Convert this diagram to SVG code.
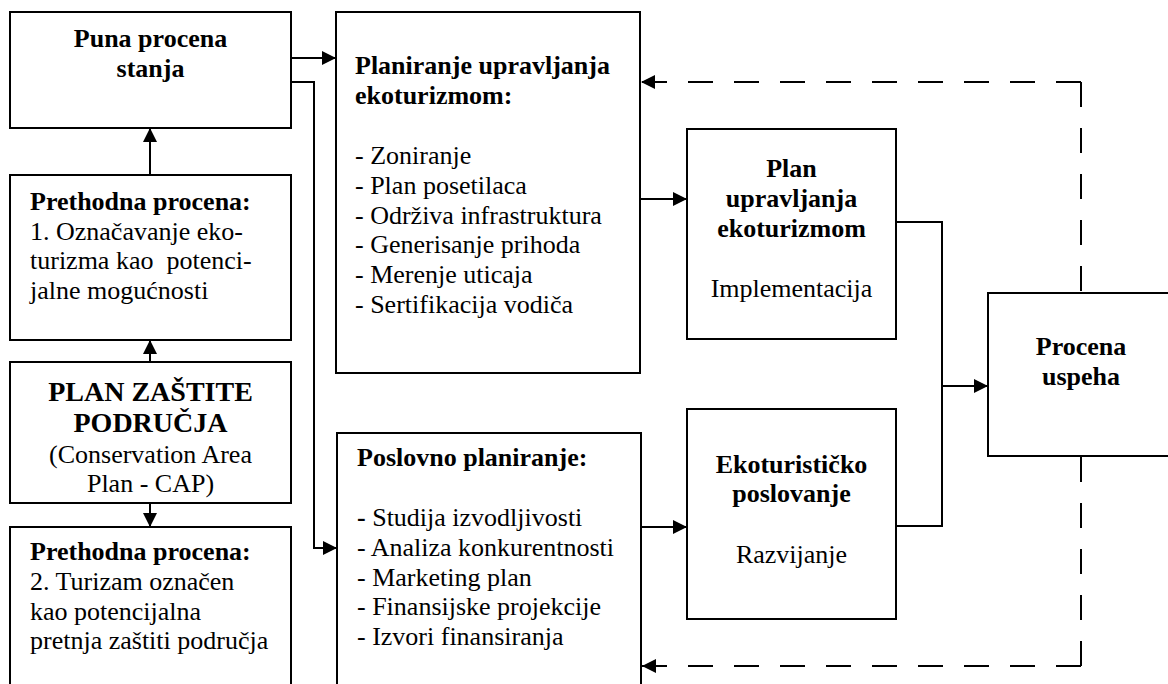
<svg xmlns="http://www.w3.org/2000/svg" width="1168" height="684" viewBox="0 0 1168 684">
  <style>
    .box { fill: #ffffff; stroke: #000000; stroke-width: 2; }
    .line { fill: none; stroke: #000000; stroke-width: 2; }
    .dash { fill: none; stroke: #000000; stroke-width: 2; stroke-dasharray: 25 21; }
    text { font-family: "Liberation Serif", "Times New Roman", serif; font-size: 26px; fill: #000000; }
    .b { font-weight: bold; }
    .c { text-anchor: middle; }
    .big { font-size: 28px; }
  </style>
  <defs>
    <marker id="arrow" markerUnits="userSpaceOnUse" markerWidth="14" markerHeight="14" refX="14" refY="7" orient="auto">
      <path d="M0,0 L14,7 L0,14 Z" fill="#000000" stroke="none"/>
    </marker>
  </defs>

  <rect width="1168" height="684" fill="#ffffff"/>

  <!-- connectors -->
  <g id="connectors">
    <path class="line" d="M291,58 H336" marker-end="url(#arrow)"/>
    <path class="line" d="M291,82 H314 V548 H337" marker-end="url(#arrow)"/>
    <path class="line" d="M150,175 V128" marker-end="url(#arrow)"/>
    <path class="line" d="M150,362 V340" marker-end="url(#arrow)"/>
    <path class="line" d="M150,503 V527" marker-end="url(#arrow)"/>
    <path class="line" d="M640,199 H687" marker-end="url(#arrow)"/>
    <path class="line" d="M641,527 H687" marker-end="url(#arrow)"/>
    <path class="line" d="M896,222 H942 V526 H896"/>
    <path class="line" d="M942,386 H988" marker-end="url(#arrow)"/>
    <!-- feedback from the evaluation box -->
    <path class="dash" d="M1081,82 V293"/>
    <path class="dash" d="M1081,82 H641" marker-end="url(#arrow)"/>
    <path class="dash" d="M1081,666 V456"/>
    <path class="dash" d="M1081,666 H642" marker-end="url(#arrow)"/>
  </g>

  <g id="puna-procena">
    <rect class="box" x="10" y="12" width="281" height="116"/>
    <text class="b c" x="150.5" y="47">Puna procena</text>
    <text class="b c" x="150.5" y="77">stanja</text>
  </g>

  <g id="prethodna-procena-1">
    <rect class="box" x="10" y="175" width="281" height="165"/>
    <text class="b" x="30" y="210">Prethodna procena:</text>
    <text x="30" y="240">1. Označavanje eko-</text>
    <text x="30" y="269" xml:space="preserve">turizma kao  potenci-</text>
    <text x="30" y="298.5">jalne mogućnosti</text>
  </g>

  <g id="plan-zastite">
    <rect class="box" x="10" y="362" width="281" height="141"/>
    <text class="b c big" x="150.5" y="401">PLAN ZAŠTITE</text>
    <text class="b c big" x="150.5" y="432">PODRUČJA</text>
    <text class="c" x="150.5" y="463">(Conservation Area</text>
    <text class="c" x="150.5" y="492">Plan - CAP)</text>
  </g>

  <g id="prethodna-procena-2">
    <rect class="box" x="10" y="527" width="281" height="170"/>
    <text class="b" x="30" y="560">Prethodna procena:</text>
    <text x="30" y="590">2. Turizam označen</text>
    <text x="30" y="620">kao potencijalna</text>
    <text x="30" y="649">pretnja zaštiti područja</text>
  </g>

  <g id="planiranje-upravljanja">
    <rect class="box" x="336" y="12" width="304" height="361"/>
    <text class="b" x="355" y="74">Planiranje upravljanja</text>
    <text class="b" x="355" y="104">ekoturizmom:</text>
    <text x="355" y="164">- Zoniranje</text>
    <text x="355" y="193.5">- Plan posetilaca</text>
    <text x="355" y="223.5">- Održiva infrastruktura</text>
    <text x="355" y="253">- Generisanje prihoda</text>
    <text x="355" y="283">- Merenje uticaja</text>
    <text x="355" y="313">- Sertifikacija vodiča</text>
  </g>

  <g id="poslovno-planiranje">
    <rect class="box" x="337" y="433" width="304" height="264"/>
    <text class="b" x="357" y="466">Poslovno planiranje:</text>
    <text x="357" y="526"><tspan class="b">-</tspan> Studija izvodljivosti</text>
    <text x="357" y="556">- Analiza konkurentnosti</text>
    <text x="357" y="585.5">- Marketing plan</text>
    <text x="357" y="615">- Finansijske projekcije</text>
    <text x="357" y="645">- Izvori finansiranja</text>
  </g>

  <g id="plan-upravljanja">
    <rect class="box" x="687" y="129" width="209" height="210"/>
    <text class="b c" x="791.5" y="177">Plan</text>
    <text class="b c" x="791.5" y="207">upravljanja</text>
    <text class="b c" x="791.5" y="237">ekoturizmom</text>
    <text class="c" x="791.5" y="297">Implementacija</text>
  </g>

  <g id="ekoturisticko-poslovanje">
    <rect class="box" x="687" y="409" width="209" height="210"/>
    <text class="b c" x="791.5" y="473">Ekoturističko</text>
    <text class="b c" x="791.5" y="502">poslovanje</text>
    <text class="c" x="791.5" y="563">Razvijanje</text>
  </g>

  <g id="procena-uspeha">
    <rect class="box" x="988" y="293" width="200" height="163"/>
    <text class="b c" x="1081" y="355">Procena</text>
    <text class="b c" x="1081" y="385">uspeha</text>
  </g>
</svg>
